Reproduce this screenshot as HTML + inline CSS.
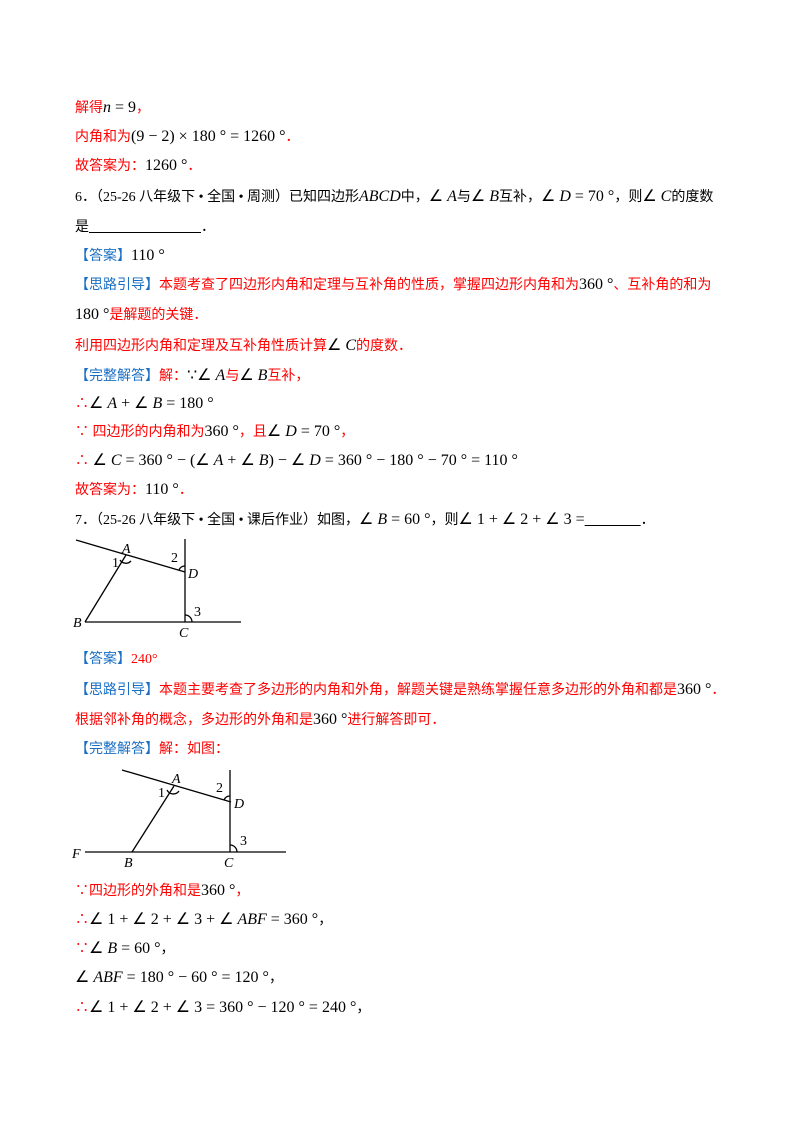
<!DOCTYPE html>
<html><head><meta charset="utf-8"><style>
body{margin:0;background:#fff;width:800px;height:1132px;position:relative;overflow:hidden;font-family:"Liberation Serif","Noto Sans CJK SC",sans-serif;font-size:14px;}
.l{position:absolute;left:75px;white-space:nowrap;line-height:20px;color:#000}
.r{color:#f00}
.b{color:#1a6fc4}
.m{font-family:"Liberation Serif",serif;font-size:16px;color:#000}
.r .m{color:#000}
i{font-style:italic}
svg{position:absolute;left:0;top:0}
svg text{font-family:"Liberation Serif",serif;font-size:14px}
</style></head><body>
<div class="l r" style="top:98px">解得<span class="m"><i>n</i> = 9</span>，</div>
<div class="l r" style="top:127px">内角和为<span class="m">(9 − 2) × 180 ° = 1260 °</span>．</div>
<div class="l r" style="top:156px">故答案为：<span class="m">1260 °</span>．</div>
<div class="l" style="top:187px">6．（25-26 八年级下 • 全国 • 周测）已知四边形<span class="m"><i>ABCD</i></span>中，<span class="m">∠ <i>A</i></span>与<span class="m">∠ <i>B</i></span>互补，<span class="m">∠ <i>D</i> = 70 °</span>，则<span class="m">∠ <i>C</i></span>的度数</div>
<div class="l" style="top:218px">是<u>　　　　　　　　</u>．</div>
<div class="l" style="top:246px"><span class="b">【答案】</span><span class="m">110 °</span></div>
<div class="l r" style="top:275px"><span class="b">【思路引导】</span>本题考查了四边形内角和定理与互补角的性质，掌握四边形内角和为<span class="m">360 °</span>、互补角的和为</div>
<div class="l r" style="top:305px"><span class="m">180 °</span>是解题的关键．</div>
<div class="l r" style="top:336px">利用四边形内角和定理及互补角性质计算<span class="m">∠ <i>C</i></span>的度数．</div>
<div class="l r" style="top:366px"><span class="b">【完整解答】</span>解：<span class="m">∵∠ <i>A</i></span>与<span class="m">∠ <i>B</i></span>互补，</div>
<div class="l" style="top:394px"><span class="r">∴</span><span class="m">∠ <i>A</i> + ∠ <i>B</i> = 180 °</span></div>
<div class="l r" style="top:422px">∵ 四边形的内角和为<span class="m">360 °</span>，且<span class="m">∠ <i>D</i> = 70 °</span>，</div>
<div class="l" style="top:451px"><span class="r">∴</span> <span class="m">∠ <i>C</i> = 360 ° − (∠ <i>A</i> + ∠ <i>B</i>) − ∠ <i>D</i> = 360 ° − 180 ° − 70 ° = 110 °</span></div>
<div class="l r" style="top:480px">故答案为：<span class="m">110 °</span>．</div>
<div class="l" style="top:510px">7．（25-26 八年级下 • 全国 • 课后作业）如图，<span class="m">∠ <i>B</i> = 60 °</span>，则<span class="m">∠ 1 + ∠ 2 + ∠ 3 =</span><u>　　　　</u>．</div>
<div class="l r" style="top:650px"><span class="b">【答案】</span>240°</div>
<div class="l r" style="top:680px"><span class="b">【思路引导】</span>本题主要考查了多边形的内角和外角，解题关键是熟练掌握任意多边形的外角和都是<span class="m">360 °</span>．</div>
<div class="l r" style="top:710px">根据邻补角的概念，多边形的外角和是<span class="m">360 °</span>进行解答即可．</div>
<div class="l r" style="top:740px"><span class="b">【完整解答】</span>解：如图：</div>
<div class="l r" style="top:881px">∵四边形的外角和是<span class="m">360 °</span>，</div>
<div class="l" style="top:910px"><span class="r">∴</span><span class="m">∠ 1 + ∠ 2 + ∠ 3 + ∠ <i>ABF</i> = 360 °</span>，</div>
<div class="l" style="top:939px"><span class="r">∵</span><span class="m">∠ <i>B</i> = 60 °</span>，</div>
<div class="l" style="top:968px"><span class="m">∠ <i>ABF</i> = 180 ° − 60 ° = 120 °</span>，</div>
<div class="l" style="top:998px"><span class="r">∴</span><span class="m">∠ 1 + ∠ 2 + ∠ 3 = 360 ° − 120 ° = 240 °</span>，</div>
<svg width="800" height="1132" stroke="#000" stroke-width="1.3" fill="none">
<line x1="76" y1="540" x2="185" y2="572"/>
<line x1="126" y1="555" x2="85" y2="622"/>
<line x1="85" y1="622" x2="241" y2="622"/>
<line x1="185" y1="539" x2="185" y2="622"/>
<path d="M120 560 A7 7 0 0 0 131 561"/>
<path d="M179 570 A6 6 0 0 1 185 566"/>
<path d="M185 615 A7 7 0 0 1 192 622"/>
<g stroke="none" fill="#000">
<text x="122" y="553" font-style="italic">A</text><text x="112" y="567">1</text>
<text x="171" y="562">2</text><text x="188" y="578" font-style="italic">D</text>
<text x="194" y="616">3</text><text x="73" y="627" font-style="italic">B</text>
<text x="179" y="637" font-style="italic">C</text></g>
<line x1="122" y1="770" x2="231" y2="802"/>
<line x1="174" y1="786" x2="132" y2="852"/>
<line x1="85" y1="852" x2="286" y2="852"/>
<line x1="230" y1="770" x2="230" y2="852"/>
<path d="M167 790 A7 7 0 0 0 179 791"/>
<path d="M224 800 A6 6 0 0 1 230 796"/>
<path d="M230 845 A7 7 0 0 1 237 852"/>
<g stroke="none" fill="#000">
<text x="172" y="783" font-style="italic">A</text><text x="158" y="797">1</text>
<text x="216" y="792">2</text><text x="234" y="808" font-style="italic">D</text>
<text x="240" y="845">3</text><text x="72" y="858" font-style="italic">F</text>
<text x="124" y="867" font-style="italic">B</text><text x="224" y="867" font-style="italic">C</text></g>
</svg>
</body></html>
